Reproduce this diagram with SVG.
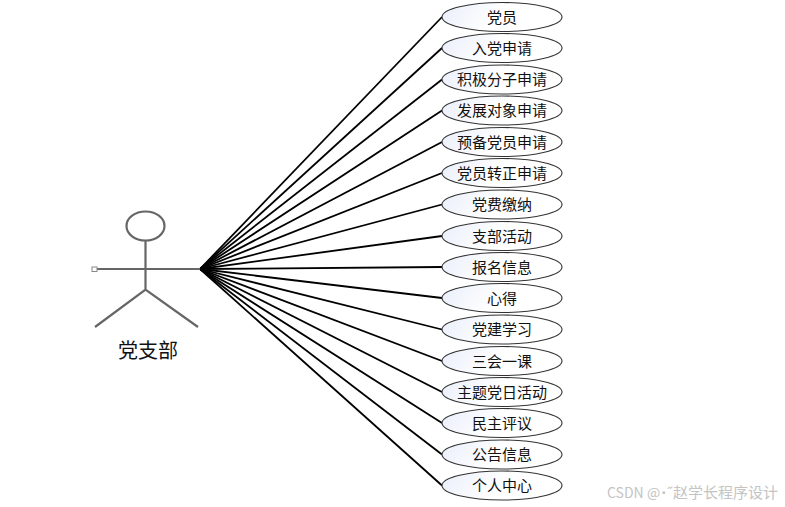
<svg xmlns="http://www.w3.org/2000/svg" width="785" height="507" viewBox="0 0 785 507">
<style>
.uc{fill:url(#g);stroke:#333;stroke-width:1.1}
.t{font-family:"Noto Sans CJK SC","Liberation Sans",sans-serif;font-size:15px;fill:#111;text-anchor:middle}
.c line{stroke:#000;stroke-width:1.8}
.a{fill:none;stroke:#666;stroke-width:2.2}
.w{font-family:"Noto Sans CJK SC",sans-serif;fill:#c4c4c4}
</style>
<defs><linearGradient id="g" x1="0" y1="0" x2="1" y2="0.2"><stop offset="0" stop-color="#e9eefa"/><stop offset="0.55" stop-color="#fff"/></linearGradient></defs>
<rect width="785" height="507" fill="#fff"/>
<g id="connectors" class="c">
<line x1="200" y1="269" x2="442" y2="17"/>
<line x1="200" y1="269" x2="442" y2="48"/>
<line x1="200" y1="269" x2="442" y2="79.500"/>
<line x1="200" y1="269" x2="442" y2="110.500"/>
<line x1="200" y1="269" x2="442" y2="142"/>
<line x1="200" y1="269" x2="442" y2="173"/>
<line x1="200" y1="269" x2="442" y2="204.500"/>
<line x1="200" y1="269" x2="442" y2="236"/>
<line x1="200" y1="269" x2="442" y2="267"/>
<line x1="200" y1="269" x2="442" y2="298"/>
<line x1="200" y1="269" x2="442" y2="329.500"/>
<line x1="200" y1="269" x2="442" y2="361"/>
<line x1="200" y1="269" x2="442" y2="392"/>
<line x1="200" y1="269" x2="442" y2="423"/>
<line x1="200" y1="269" x2="442" y2="454.500"/>
<line x1="200" y1="269" x2="442" y2="485.500"/>
</g>
<g id="actor">
<ellipse class="a" cx="145.500" cy="226" rx="19" ry="14.500"/>
<path class="a" d="M145.500 240.500V289.500M96 269H200M95 327L145.500 289.500L198 327"/>
<rect x="92" y="267" width="5" height="4.500" fill="#fff" stroke="#888" stroke-width="1"/>
<text x="148" y="358" font-family="'Noto Sans CJK SC',sans-serif" font-size="20" fill="#111" text-anchor="middle">党支部</text>
</g>
<g id="n1"><ellipse class="uc" cx="502" cy="17" rx="60" ry="14.500"/><text class="t" x="502" y="22.500">党员</text></g>
<g id="n2"><ellipse class="uc" cx="502" cy="48" rx="60" ry="14.500"/><text class="t" x="502" y="53.500">入党申请</text></g>
<g id="n3"><ellipse class="uc" cx="502" cy="79.500" rx="60" ry="14.500"/><text class="t" x="502" y="85">积极分子申请</text></g>
<g id="n4"><ellipse class="uc" cx="502" cy="110.500" rx="60" ry="14.500"/><text class="t" x="502" y="116">发展对象申请</text></g>
<g id="n5"><ellipse class="uc" cx="502" cy="142" rx="60" ry="14.500"/><text class="t" x="502" y="147.500">预备党员申请</text></g>
<g id="n6"><ellipse class="uc" cx="502" cy="173" rx="60" ry="14.500"/><text class="t" x="502" y="178.500">党员转正申请</text></g>
<g id="n7"><ellipse class="uc" cx="502" cy="204.500" rx="60" ry="14.500"/><text class="t" x="502" y="210">党费缴纳</text></g>
<g id="n8"><ellipse class="uc" cx="502" cy="236" rx="60" ry="14.500"/><text class="t" x="502" y="241.500">支部活动</text></g>
<g id="n9"><ellipse class="uc" cx="502" cy="267" rx="60" ry="14.500"/><text class="t" x="502" y="272.500">报名信息</text></g>
<g id="n10"><ellipse class="uc" cx="502" cy="298" rx="60" ry="14.500"/><text class="t" x="502" y="303.500">心得</text></g>
<g id="n11"><ellipse class="uc" cx="502" cy="329.500" rx="60" ry="14.500"/><text class="t" x="502" y="335">党建学习</text></g>
<g id="n12"><ellipse class="uc" cx="502" cy="361" rx="60" ry="14.500"/><text class="t" x="502" y="366.500">三会一课</text></g>
<g id="n13"><ellipse class="uc" cx="502" cy="392" rx="60" ry="14.500"/><text class="t" x="502" y="397.500">主题党日活动</text></g>
<g id="n14"><ellipse class="uc" cx="502" cy="423" rx="60" ry="14.500"/><text class="t" x="502" y="428.500">民主评议</text></g>
<g id="n15"><ellipse class="uc" cx="502" cy="454.500" rx="60" ry="14.500"/><text class="t" x="502" y="460">公告信息</text></g>
<g id="n16"><ellipse class="uc" cx="502" cy="485.500" rx="60" ry="14.500"/><text class="t" x="502" y="491">个人中心</text></g>
<text class="w" x="607" y="498" font-size="14">CSDN <tspan x="647">@˙˝</tspan><tspan x="673" font-size="15">赵学长程序设计</tspan></text>
</svg>
